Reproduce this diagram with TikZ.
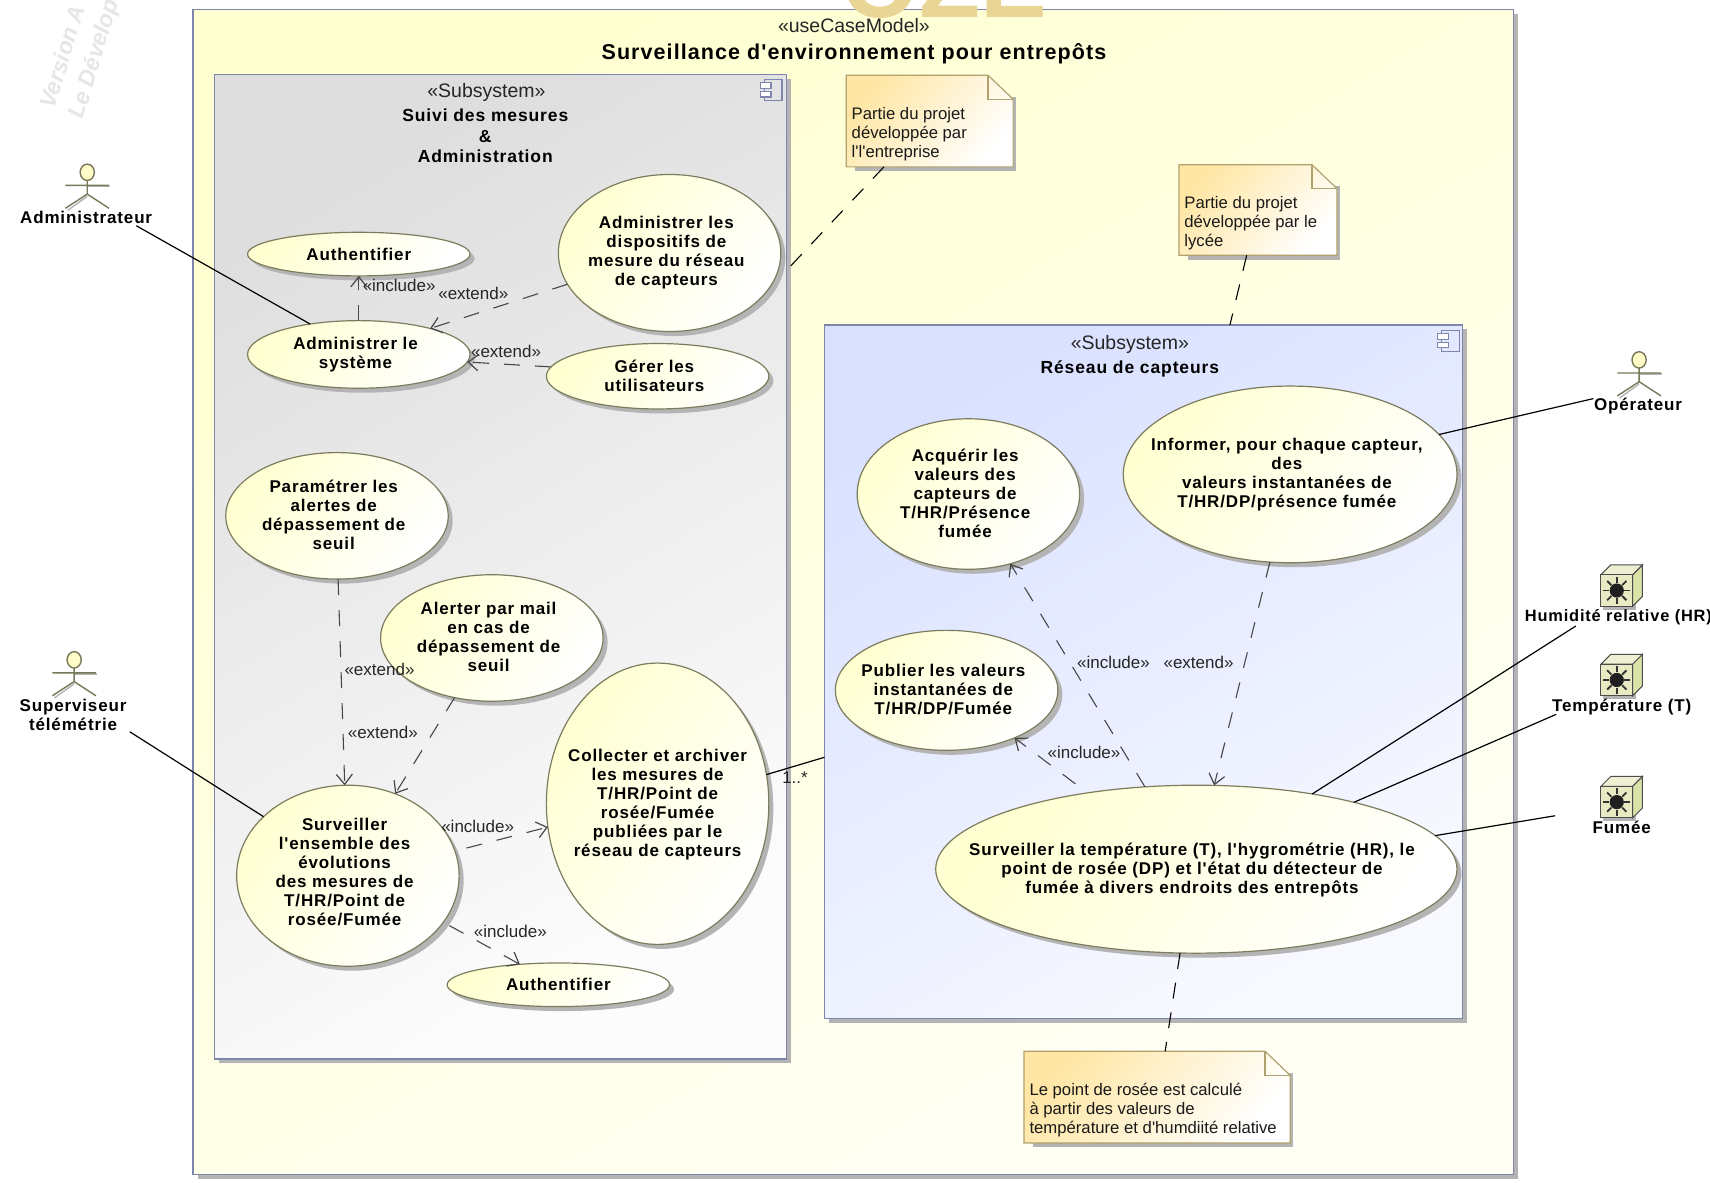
\documentclass[tikz,border=0pt]{standalone}
\usepackage{fontspec}
\setmainfont[Ligatures=TeXOff]{Liberation Sans}
\newfontfamily\ucfont[LetterSpace=5]{Liberation Sans}
\usetikzlibrary{arrows.meta,shadows,calc,shapes.geometric}
\definecolor{framec}{HTML}{7F86AE}
\definecolor{ucline}{HTML}{7C7C5E}
\definecolor{notec}{HTML}{B0A26E}
\definecolor{notetop}{HTML}{FFE6A4}
\definecolor{shad}{HTML}{B4B4B4}
\definecolor{actc}{HTML}{77775A}
\definecolor{wmo}{HTML}{E9D595}
\definecolor{wmg}{HTML}{E6E6E6}
\definecolor{bluetop}{HTML}{D9E1FF}
\definecolor{bluebot}{HTML}{F8F9FF}
\definecolor{outertop}{HTML}{FFFFD2}
\definecolor{outerbot}{HTML}{FFFFF6}
\definecolor{cubefront}{HTML}{E9E9C4}
\definecolor{cubeside}{HTML}{DAE2A8}
\definecolor{cubetop}{HTML}{EFEFD4}
\tikzset{
  shd/.style={drop shadow={shadow xshift=4.5pt,shadow yshift=-4.5pt,fill=shad,opacity=1}},
  uc/.style={ellipse,draw=ucline,line width=1.2pt,inner sep=0pt,outer sep=0pt,
    top color=yellow!18!white,bottom color=white,shading angle=55,shd},
  uctext/.style={inner sep=0pt,outer sep=0pt,align=center,text=black,
    font=\ucfont\bfseries\fontsize{17}{19}\selectfont},
  framebox/.style={rectangle,draw=framec,line width=1.3pt,inner sep=0pt,outer sep=0pt,shd},
  plain/.style={inner sep=0pt,outer sep=0pt,align=center,font=\fontsize{19.5}{22}\selectfont,text=black!85},
  rawlab/.style={inner sep=0pt,outer sep=0pt,font=\fontsize{17}{20}\selectfont,text=black!85},
  title/.style={inner sep=0pt,outer sep=0pt,align=center,font=\ucfont\bfseries\fontsize{17.5}{20.5}\selectfont},
  actlab/.style={inner sep=0pt,outer sep=0pt,align=center,font=\ucfont\bfseries\fontsize{17}{19}\selectfont},
  solidc/.style={draw=black,line width=1.2pt},
  dep/.style={draw=black!72,line width=1.1pt,dash pattern=on 16pt off 15pt,
     -{Straight Barb[length=10pt,width=16pt,line width=1.2pt]}},
  notelink/.style={draw=black,line width=1.1pt,dash pattern=on 16pt off 14pt},
  notetext/.style={inner sep=0pt,outer sep=0pt,align=left,anchor=west,font=\fontsize{16.7}{19}\selectfont,text=black!90},
  noteb/.style={rectangle,inner sep=0pt,outer sep=0pt},
  actor/.style={draw=actc,line width=1.4pt},
}
\newcommand{\usec}[7][-3,0]{\node[uc,minimum width=2*#5*1.0906pt,minimum height=2*#6*1.0906pt] (#2) at (#3,#4) {};
  \node[uctext] (#2t) at ($(#2)+(#1)$) {#7};}
\newcommand{\framen}[7]{\node[framebox,minimum width=#4*1.0906pt,minimum height=#5*1.0906pt,top color=#6,bottom color=#7,shading angle=30] (#1) at (#2,#3) {};}
\newcommand{\notebox}[7]{%
  % #1 name, #2 x1, #3 y1, #4 x2, #5 y2, #6 text y, #7 text
  \node[noteb,minimum width=(#4-#2)*1.0906pt,minimum height=(#5-#3)*1.0906pt] (#1) at ({(#2+#4)/2},{(#3+#5)/2}) {};
  \fill[shad] (#2+8,#3+60) rectangle (#4+3,#5+4);
  \fill[shad] (#4-10,#3+20) rectangle (#4+3,#5+4);
  \path[draw=notec,line width=1.2pt,top color=notetop,bottom color=white,shading angle=50]
     (#2,#3) -- (#4-23,#3) -- (#4,#3+22) -- (#4,#5) -- (#2,#5) -- cycle;
  \draw[draw=notec,line width=1.2pt] (#4-23,#3) -- (#4-23,#3+22) -- (#4,#3+22);
  \node[notetext] at (#2+5,#6) {#7};
}
\newcommand{\actorfig}[2]{%
  \begin{scope}[shift={(#1,#2)}]
    \draw[shad,line width=1.4pt] (1,13) -- (21,13);
    \draw[shad,line width=1.4pt] (-18,35) -- (0,22);
    \draw[actor] (0,7) -- (0,20) (-20,12) -- (20,12) (-20,33) -- (0,20) -- (20,33);
    \draw[actor,fill=yellow!22!white] (0,0) ellipse (6.5 and 7.5);
  \end{scope}}
\newcommand{\cube}[2]{%
  \begin{scope}[shift={(#1,#2)}]
    \fill[shad] (2,2) rectangle (32,32);
    \draw[line width=1pt,draw=black!70,fill=cubeside] (29,0) -- (38,-9) -- (38,20) -- (29,29) -- cycle;
    \draw[line width=1pt,draw=black!70,fill=cubetop] (0,0) -- (9,-9) -- (38,-9) -- (29,0) -- cycle;
    \draw[line width=1pt,draw=black!70,fill=cubefront] (0,0) rectangle (29,29);
    \fill[black!88] (14.5,14.5) circle (6.5);
    \foreach \a in {0,45,...,315} {\draw[black!80,line width=1.8pt] (14.5,14.5) ++(\a:7) -- ++(\a:5.5);}
  \end{scope}}
\newcommand{\compicon}[2]{%
  \begin{scope}[shift={(#1,#2)}]
    \draw[framec,line width=1.2pt] (4,0) rectangle (20,19);
    \draw[framec,line width=1.2pt,fill=white] (0,3) rectangle (10,8);
    \draw[framec,line width=1.2pt,fill=white] (0,11) rectangle (10,16);
  \end{scope}}
\begin{document}
\begin{tikzpicture}[x=1.0906pt,y=-1.0906pt]
\useasboundingbox (0,0) rectangle (1568,1084);
\fill[white] (0,0) rectangle (1568,1084);
% watermark, left
\begin{scope}
\clip (0,0) rectangle (1568,1084);
\node[anchor=base west,rotate=73,inner sep=0pt,text=wmg,font=\bfseries\itshape\fontsize{23}{23}\selectfont] (wm1) at (50,101) {Version A};
\node[anchor=base west,rotate=73,inner sep=0pt,text=wmg,font=\bfseries\itshape\fontsize{23}{23}\selectfont] (wm2) at (76,110) {Le Dévelop};
\end{scope}
% frames
\framen{outer}{782.5}{543}{1211}{1068}{outertop}{outerbot}
\framen{subA}{459}{519.5}{524}{903}{black!13}{black!1}
\framen{subB}{1048.5}{616}{585}{636}{bluetop}{bluebot}
\compicon{697}{73}
\compicon{1318}{303}
% watermark, top
\begin{scope}
\clip (0,0) rectangle (1568,1084);
\node[anchor=base,inner sep=0pt,text=wmo,font=\bfseries\fontsize{100}{100}\selectfont] (wm3) at (866,16) {OZE};
\end{scope}
% headings
\node[plain] (t1) at (783,23) {«useCaseModel»};
\node[title,font=\ucfont\bfseries\fontsize{21.5}{24}\selectfont] (t2) at (783,49) {Surveillance d'environnement pour entrepôts};
\node[plain] (t3) at (446,85) {«Subsystem»};
\node[title] (t4) at (445,124.5) {Suivi des mesures\\\&\\Administration};
\node[plain] (t5) at (1036,316) {«Subsystem»};
\node[title] (t6) at (1036,338) {Réseau de capteurs};
% use cases
\usec[0,0]{authA}{329}{233}{102}{20}{Authentifier}
\usec{admS}{329}{325}{102}{31}{Administrer le\\système}
\usec{admD}{614}{232}{102}{72}{Administrer les\\dispositifs de\\mesure du réseau\\de capteurs}
\usec{ger}{603}{345}{102}{30}{Gérer les\\utilisateurs}
\usec[-3,-1]{para}{309}{473}{102}{58}{Paramétrer les\\alertes de\\dépassement de\\seuil}
\usec[-3,-1]{aler}{451}{585}{102}{58}{Alerter par mail\\en cas de\\dépassement de\\seuil}
\usec[0,1]{coll}{603}{737}{102}{129}{Collecter et archiver\\les mesures de\\T/HR/Point de\\rosée/Fumée\\publiées par le\\réseau de capteurs}
\usec[-3,-3]{surE}{319}{803}{102}{83}{Surveiller\\l'ensemble des\\évolutions\\des mesures de\\T/HR/Point de\\rosée/Fumée}
\usec[0,0]{authB}{512}{903}{102}{20}{Authentifier}
\usec[-3,-1]{acq}{888}{453}{102}{69}{Acquérir les\\valeurs des\\capteurs de\\T/HR/Présence\\fumée}
\usec{info}{1183}{435}{153}{81}{Informer, pour chaque capteur,\\des\\valeurs instantanées de\\T/HR/DP/présence fumée}
\usec[-3,-1]{pub}{868}{633}{102}{55}{Publier les valeurs\\instantanées de\\T/HR/DP/Fumée}
\usec[-4,1]{surT}{1097}{797}{239}{77}{Surveiller la température (T),  l'hygrométrie (HR), le\\point de rosée (DP) et l'état du détecteur de\\fumée à divers endroits des entrepôts}
% notes
\notebox{nA}{776}{69}{929}{153}{123}{Partie du projet\\développée par\\l'l'entreprise}
\notebox{nB}{1081}{151}{1226}{234}{205}{Partie du projet\\développée par le\\lycée}
\notebox{nC}{939}{964}{1183}{1048}{1018}{Le point de rosée est calculé\\à partir des valeurs de\\température et d'humdiité relative}
% actors
\actorfig{80}{158}
\actorfig{68}{605}
\actorfig{1503}{330}
\node[actlab] (lA) at (79,199) {Administrateur};
\node[actlab] (lS) at (67,656) {Superviseur\\télémétrie};
\node[actlab] (lO) at (1502,372.5) {Opérateur};
% sensors
\cube{1468}{527}
\cube{1468}{609}
\cube{1468}{721}
\node[actlab,font=\ucfont\bfseries\fontsize{16.4}{19}\selectfont] (lH) at (1484,566) {Humidité relative (HR)};
\node[actlab] (lT) at (1487,648) {Température (T)};
\node[actlab] (lF) at (1487,759) {Fumée};
\coordinate (fu) at (1426,748);
% solid connectors
\draw[solidc] ($(lA)+(46,8)$) -- (admS.148.7);
\draw[solidc] ($(lS)+(52,15)$) -- (surE.145.8);
\draw[solidc] ($(lO)+(-41,-7)$) -- (info.15.1);
\draw[solidc] ($(lH)+(-39,8)$) -- (surT.33.8);
\draw[solidc] ($(lT)+(-60,7)$) -- (surT.23.8);
\draw[solidc] (fu) -- (surT.8.6);
\draw[solidc] (coll.15) -- (subB.195.1);
% dependencies
\draw[dep] (admS.90) -- (authA.-90);
\draw[dep] (admD.197.9) -- (admS.20.2);
\draw[dep] (ger.175.5) -- (admS.-4);
\draw[dep] (para.-89) -- (surE.92);
\draw[dep] (aler.-122.5) -- (surE.60.2);
\draw[dep,dash phase=19pt] (surE.13) -- (coll.192.7);
\draw[dep,dash phase=24pt] (surE.-26.8) -- (authB.152.2);
\draw[dep] (surT.122) -- (acq.-59.6);
\draw[dep,dash phase=16pt] (surT.145.4) -- (pub.-35.2);
\draw[dep] (info.-103.7) -- (surT.78.3);
% note links
\draw[notelink] (nA.-135.3) -- (subA.46.1);
\draw[notelink] (nB.-104.2) -- (subB.76);
\draw[notelink] (surT.-101) -- (nC.80.5);
% labels
\node[rawlab] (d1) at (366,262) {«include»};
\node[rawlab] (d2) at (434,269) {«extend»};
\node[rawlab] (d3) at (464,322) {«extend»};
\node[rawlab] (d4) at (348,614) {«extend»};
\node[rawlab] (d5) at (351,672) {«extend»};
\node[rawlab] (d6) at (438,758) {«include»};
\node[rawlab] (d7) at (468,854) {«include»};
\node[rawlab] (d8) at (1021,607) {«include»};
\node[rawlab] (d9) at (1099,607) {«extend»};
\node[rawlab] (d10) at (994,690) {«include»};
\node[rawlab] (d11) at (729,713) {1..*};
\end{tikzpicture}
\end{document}
